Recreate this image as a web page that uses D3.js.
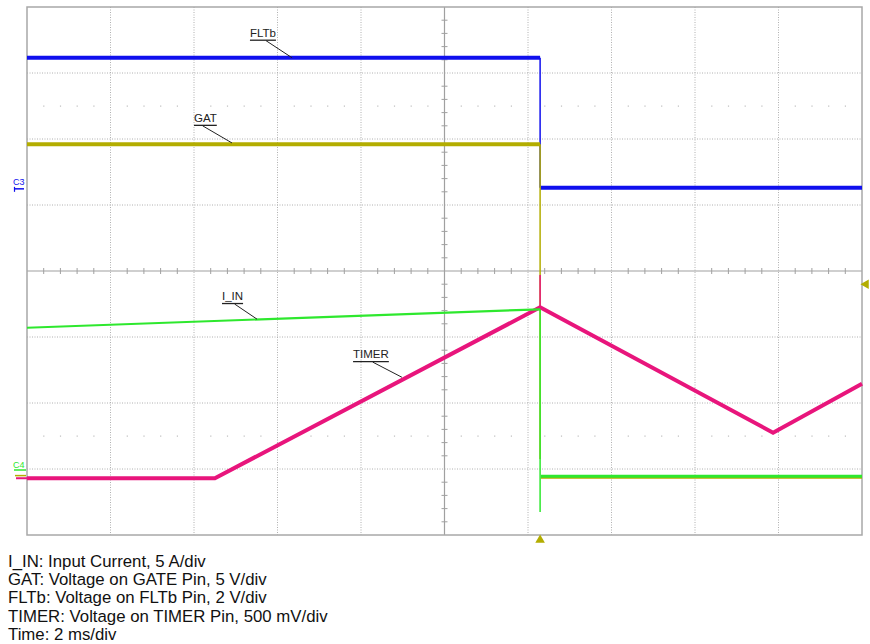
<!DOCTYPE html>
<html>
<head>
<meta charset="utf-8">
<script src="https://cdn.jsdelivr.net/npm/d3@7"></script>
<style>
  html, body { margin: 0; padding: 0; background: #fff; }
  svg { display: block; }
  text { font-family: "Liberation Sans", Arial, sans-serif; }
</style>
</head>
<body>
<svg id="chart" width="870" height="644"></svg>
<script>
// ---- Data (time in ms, amplitude in screen divisions from centre) ----
const timeDomain = [0, 20];          // 2 ms/div, 10 divisions
const divDomain = [-4, 4];           // 8 vertical divisions

const fltbT = [0, 12.29, 12.29, 20];
const fltbV = [3.23, 3.23, 1.26, 1.26];

const gatT = [0, 12.29, 12.29, 12.31, 20];
const gatV = [1.92, 1.92, -2.85, -3.12, -3.12];

const iinT = [0, 12.29, 12.29, 12.31, 20];
const iinV = [-0.86, -0.58, -3.65, -3.11, -3.11];

const timerT = [0, 4.5, 12.29, 17.87, 20];
const timerV = [-3.14, -3.14, -0.55, -2.45, -1.71];
const timerSpikeT = [12.29, 12.29];
const timerSpikeV = [-0.55, -0.06];

const legendLines = [
  "I_IN: Input Current, 5 A/div",
  "GAT: Voltage on GATE Pin, 5 V/div",
  "FLTb: Voltage on FLTb Pin, 2 V/div",
  "TIMER: Voltage on TIMER Pin, 500 mV/div",
  "Time: 2 ms/div"
];

// trace labels: [text, text start (ms), text baseline (div), leader end (ms), leader end (div), leader start fraction of text width]
const traceLabels = [
  ["FLTb", 5.34, 3.55, 6.35, 3.23, 0.62],
  ["GAT", 4.00, 2.26, 4.91, 1.94, 0.38],
  ["I_IN", 4.67, -0.44, 5.51, -0.73, 0.6],
  ["TIMER", 7.81, -1.32, 8.98, -1.61, 0.55]
];

const colors = { fltb: "#1010ee", gat: "#b3ad00", iin: "#2ee82e", timer: "#e8157c" };

// ---- Layout ----
const svg = d3.select("#chart");
const pLeft = 27, pRight = 862, pTop = 7, pBottom = 535;
const x = d3.scaleLinear().domain(timeDomain).range([pLeft, pRight]);
const y = d3.scaleLinear().domain(divDomain).range([pBottom, pTop]);

const g = svg.append("g");

// grid
const xDivs = d3.range(1, 10).map(i => i * 2);
const yDivs = d3.range(-3, 4);
g.selectAll(".vgrid").data(xDivs.filter(t => t !== 10)).enter().append("line")
  .attr("x1", d => x(d)).attr("x2", d => x(d)).attr("y1", pTop).attr("y2", pBottom)
  .attr("stroke", "#b0b0b0").attr("stroke-width", 1).attr("stroke-dasharray", "1,1.5");
g.selectAll(".hgrid").data(yDivs.filter(v => v !== 0)).enter().append("line")
  .attr("x1", pLeft).attr("x2", pRight).attr("y1", d => y(d)).attr("y2", d => y(d))
  .attr("stroke", "#b0b0b0").attr("stroke-width", 1).attr("stroke-dasharray", "1,1.5");

// dot rows at +/-2.5 div
const dotTimes = d3.range(0, 50).map(i => i * 0.4).filter(t => t > 0 && Math.abs(t / 2 - Math.round(t / 2)) > 0.01);
[2.5, -2.5].forEach(v => {
  g.selectAll(null).data(dotTimes).enter().append("rect")
    .attr("x", d => x(d) - 0.5).attr("y", y(v) - 0.5).attr("width", 1.2).attr("height", 1.2)
    .attr("fill", "#bdbdbd");
});

// centre axes with minor ticks
g.append("line").attr("x1", x(10)).attr("x2", x(10)).attr("y1", pTop).attr("y2", pBottom)
  .attr("stroke", "#a0a0a0").attr("stroke-width", 1.2);
g.append("line").attr("x1", pLeft).attr("x2", pRight).attr("y1", y(0)).attr("y2", y(0))
  .attr("stroke", "#a0a0a0").attr("stroke-width", 1.2);
const minorT = d3.range(1, 50).map(i => i * 0.4).filter(t => Math.abs(t / 2 - Math.round(t / 2)) > 0.01);
g.selectAll(null).data(minorT).enter().append("line")
  .attr("x1", d => x(d)).attr("x2", d => x(d)).attr("y1", y(0) - 3).attr("y2", y(0) + 3)
  .attr("stroke", "#a0a0a0").attr("stroke-width", 1);
const minorV = d3.range(-20, 21).map(i => i * 0.2).filter(v => Math.abs(v - Math.round(v)) > 0.01);
g.selectAll(null).data(minorV).enter().append("line")
  .attr("x1", x(10) - 3).attr("x2", x(10) + 3).attr("y1", d => y(d)).attr("y2", d => y(d))
  .attr("stroke", "#a0a0a0").attr("stroke-width", 1);

// border
g.append("rect").attr("x", pLeft).attr("y", pTop).attr("width", pRight - pLeft).attr("height", pBottom - pTop)
  .attr("fill", "none").attr("stroke", "#a8a8a8").attr("stroke-width", 1.5);

// traces
const line = d3.line().x(d => x(d[0])).y(d => y(d[1]));
function trace(ts, vs, color, w) {
  g.append("path").datum(d3.zip(ts, vs)).attr("d", line)
    .attr("fill", "none").attr("stroke", color).attr("stroke-width", w)
    .attr("stroke-linejoin", "miter");
}

trace(fltbT.slice(0, 2), fltbV.slice(0, 2), colors.fltb, 4);
trace(fltbT.slice(1, 3), fltbV.slice(1, 3), colors.fltb, 1.5);
trace(fltbT.slice(2), fltbV.slice(2), colors.fltb, 4);

trace(gatT.slice(0, 2), gatV.slice(0, 2), colors.gat, 4);
trace(gatT.slice(1, 3), gatV.slice(1, 3), colors.gat, 1.5);
trace(gatT.slice(3), gatV.slice(3), colors.gat, 3.5);

trace(timerT, timerV, colors.timer, 4);
trace(timerSpikeT, timerSpikeV, colors.timer, 1.5);

trace(iinT.slice(0, 2), iinV.slice(0, 2), colors.iin, 2.2);
trace(iinT.slice(1, 3), iinV.slice(1, 3), colors.iin, 1.5);
trace(iinT.slice(3), iinV.slice(3), colors.iin, 3);

// trace labels with underline and leader
traceLabels.forEach(([txt, t, v, t2, v2, frac]) => {
  const tx = x(t), ty = y(v);
  const el = g.append("text").attr("x", tx).attr("y", ty).attr("font-size", 11.5).attr("fill", "#222").text(txt);
  const w = el.node().getComputedTextLength();
  g.append("line").attr("x1", tx).attr("x2", tx + w).attr("y1", ty + 3.5).attr("y2", ty + 3.5)
    .attr("stroke", "#222").attr("stroke-width", 1.3);
  g.append("line").attr("x1", tx + w * frac).attr("y1", ty + 4).attr("x2", x(t2)).attr("y2", y(v2))
    .attr("stroke", "#222").attr("stroke-width", 1);
});

// channel markers at left
const c3y = y(1.26);
g.append("text").attr("x", 13).attr("y", c3y - 3)
  .attr("font-size", 9).attr("fill", colors.fltb).text("C3");
g.append("line").attr("x1", 14).attr("x2", 24).attr("y1", c3y + 1).attr("y2", c3y + 1)
  .attr("stroke", colors.fltb).attr("stroke-width", 1.5);
g.append("line").attr("x1", 14.5).attr("x2", 14.5).attr("y1", c3y - 1).attr("y2", c3y + 4)
  .attr("stroke", colors.fltb).attr("stroke-width", 1.2);

const c4y = y(-3.0);
g.append("text").attr("x", 13).attr("y", c4y - 1).attr("font-size", 9).attr("fill", colors.iin).text("C4");
g.append("line").attr("x1", 14).attr("x2", 26).attr("y1", c4y + 1).attr("y2", c4y + 1)
  .attr("stroke", colors.iin).attr("stroke-width", 1.5);
g.append("line").attr("x1", 15).attr("x2", 26).attr("y1", y(-3.1)).attr("y2", y(-3.1))
  .attr("stroke", colors.gat).attr("stroke-width", 1.5);
g.append("line").attr("x1", 16).attr("x2", 27).attr("y1", y(-3.14)).attr("y2", y(-3.14))
  .attr("stroke", colors.timer).attr("stroke-width", 2);

// trigger markers
const trigT = 12.29;
g.append("path").attr("d", d3.symbol().type(d3.symbolTriangle).size(40)())
  .attr("transform", `translate(${x(trigT)},${pBottom + 5})`).attr("fill", colors.gat);
g.append("path").attr("d", d3.symbol().type(d3.symbolTriangle).size(40)())
  .attr("transform", `translate(${pRight + 4},${y(-0.2)}) rotate(-90)`).attr("fill", colors.gat);

// legend text
const leg = svg.append("g").attr("transform", "translate(8,567)");
leg.selectAll("text").data(legendLines).enter().append("text")
  .attr("x", 0).attr("y", (d, i) => i * 18.2)
  .attr("font-size", 16.8).attr("fill", "#111").text(d => d);
</script>
</body>
</html>
